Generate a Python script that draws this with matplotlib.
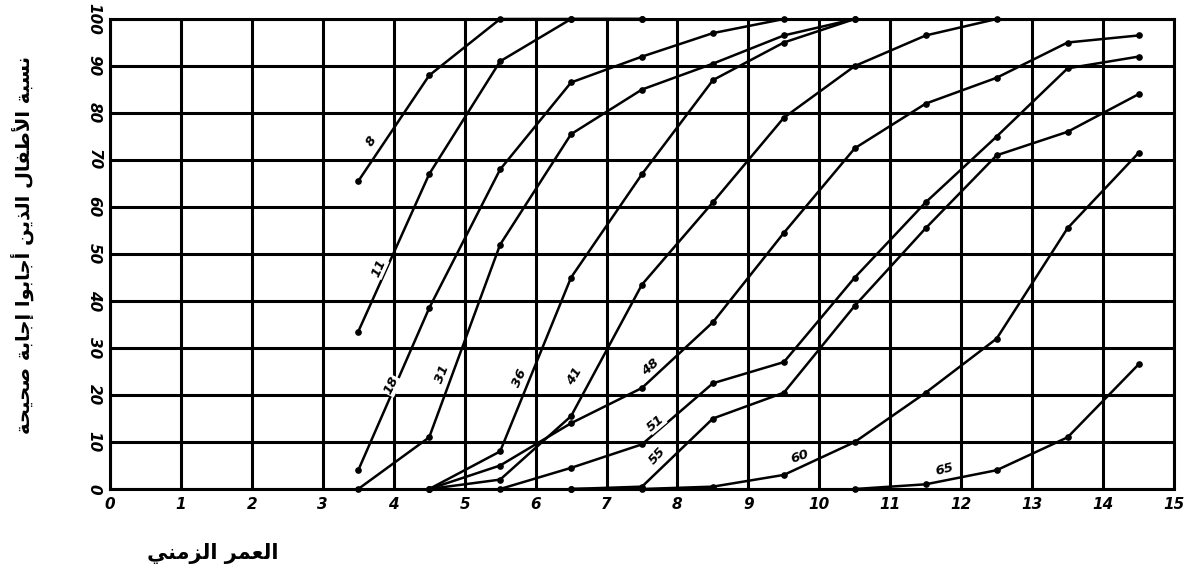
import matplotlib

matplotlib.use("Agg")
import matplotlib.pyplot as plt

# Ages (years) at which each group was tested
ages = [3.5, 4.5, 5.5, 6.5, 7.5, 8.5, 9.5, 10.5, 11.5, 12.5, 13.5, 14.5]

# Percent of children answering correctly, one series per item
item_8 = [65.5, 88, 100, 100, 100]
item_11 = [33.5, 67, 91, 100, 100]
item_18 = [4, 38.5, 68, 86.5, 92, 97, 100]
item_31 = [0, 11, 52, 75.5, 85, 90.5, 96.5, 100]
item_36 = [None, 0, 8, 45, 67, 87, 95, 100]
item_41 = [None, 0, 2, 15.5, 43.5, 61, 79, 90, 96.5, 100]
item_48 = [None, 0, 5, 14, 21.5, 35.5, 54.5, 72.5, 82, 87.5, 95, 96.5]
item_51 = [None, None, 0, 4.5, 9.5, 22.5, 27, 45, 61, 75, 89.5, 92]
item_55 = [None, None, None, 0, 0.5, 15, 20.5, 39, 55.5, 71, 76, 84]
item_60 = [None, None, None, 0, 0, 0.5, 3, 10, 20.5, 32, 55.5, 71.5]
item_65 = [None, None, None, None, None, None, None, 0, 1, 4, 11, 26.5]

items = {
    "8": item_8, "11": item_11, "18": item_18, "31": item_31,
    "36": item_36, "41": item_41, "48": item_48, "51": item_51,
    "55": item_55, "60": item_60, "65": item_65,
}

# where each item number is written, and its slant
label_pos = {
    "8": (3.68, 74, 56), "11": (3.79, 47, 66), "18": (3.97, 22, 64),
    "31": (4.69, 24.5, 68), "36": (5.77, 23.5, 66), "41": (6.55, 24, 60),
    "48": (7.62, 26, 42), "51": (7.69, 14, 40), "55": (7.72, 7, 48),
    "60": (9.73, 7, 20), "65": (11.77, 4.2, 14),
}

x_ticks = list(range(0, 16))
y_ticks = list(range(0, 101, 10))

y_title = "نسبة الأطفال الذين أجابوا إجابة صحيحة"
x_title = "العمر الزمني"

# Arabic presentation forms: isolated, final, initial, medial
FORMS = {
    "ا": ("\uFE8D", "\uFE8E", None, None),
    "أ": ("\uFE83", "\uFE84", None, None),
    "إ": ("\uFE87", "\uFE88", None, None),
    "ب": ("\uFE8F", "\uFE90", "\uFE91", "\uFE92"),
    "ة": ("\uFE93", "\uFE94", None, None),
    "ج": ("\uFE9D", "\uFE9E", "\uFE9F", "\uFEA0"),
    "ح": ("\uFEA1", "\uFEA2", "\uFEA3", "\uFEA4"),
    "ذ": ("\uFEAB", "\uFEAC", None, None),
    "ر": ("\uFEAD", "\uFEAE", None, None),
    "ز": ("\uFEAF", "\uFEB0", None, None),
    "س": ("\uFEB1", "\uFEB2", "\uFEB3", "\uFEB4"),
    "ص": ("\uFEB9", "\uFEBA", "\uFEBB", "\uFEBC"),
    "ط": ("\uFEC1", "\uFEC2", "\uFEC3", "\uFEC4"),
    "ع": ("\uFEC9", "\uFECA", "\uFECB", "\uFECC"),
    "ف": ("\uFED1", "\uFED2", "\uFED3", "\uFED4"),
    "ل": ("\uFEDD", "\uFEDE", "\uFEDF", "\uFEE0"),
    "م": ("\uFEE1", "\uFEE2", "\uFEE3", "\uFEE4"),
    "ن": ("\uFEE5", "\uFEE6", "\uFEE7", "\uFEE8"),
    "و": ("\uFEED", "\uFEEE", None, None),
    "ي": ("\uFEF1", "\uFEF2", "\uFEF3", "\uFEF4"),
}
LAM_ALEF = {"ا": ("\uFEFB", "\uFEFC"), "أ": ("\uFEF7", "\uFEF8"), "إ": ("\uFEF9", "\uFEFA")}


def shape_arabic(text):
    """Join Arabic letters and put them in visual (left-to-right) order."""
    words = []
    for word in text.split(" "):
        units = []
        i = 0
        while i < len(word):
            if word[i] == "ل" and i + 1 < len(word) and word[i + 1] in LAM_ALEF:
                units.append((True, word[i + 1]))
                i += 2
            else:
                units.append((False, word[i]))
                i += 1
        glyphs = []
        prev_joins = False
        for k, (lam_alef, ch) in enumerate(units):
            if lam_alef:
                iso, fin = LAM_ALEF[ch]
                glyphs.append(fin if prev_joins else iso)
                prev_joins = False
                continue
            iso, fin, ini, med = FORMS[ch]
            joins_next = k + 1 < len(units) and ini is not None
            if prev_joins and joins_next:
                glyphs.append(med)
            elif prev_joins:
                glyphs.append(fin)
            elif joins_next:
                glyphs.append(ini)
            else:
                glyphs.append(iso)
            prev_joins = joins_next
        words.append("".join(glyphs))
    return " ".join(words)[::-1]


fig = plt.figure(figsize=(11.88, 5.72), dpi=100)
ax = fig.add_axes([110 / 1188, 1 - 489 / 572, 1064 / 1188, 470 / 572])

for name, values in items.items():
    pts = [(a, v) for a, v in zip(ages, values) if v is not None]
    xs, ys = zip(*pts)
    ax.plot(xs, ys, color="black", lw=1.8, marker="o", ms=3.8, zorder=3, clip_on=False)
    lx, ly, rot = label_pos[name]
    ax.text(lx, ly, name, rotation=rot, ha="center", va="center", fontsize=9.5,
            fontweight="bold", fontstyle="italic", zorder=4,
            bbox=dict(boxstyle="square,pad=0.05", fc="white", ec="none"))

ax.set_xlim(0, 15)
ax.set_ylim(0, 100)
ax.set_xticks(x_ticks)
ax.set_yticks(y_ticks)
ax.set_xticklabels([str(t) for t in x_ticks], fontsize=11, fontweight="bold", fontstyle="italic")
ax.set_yticklabels([str(t) for t in y_ticks], fontsize=11, fontweight="bold", fontstyle="italic",
                   rotation=-90, va="center")
ax.tick_params(length=0, pad=6)
ax.grid(True, color="black", lw=2.2, zorder=1)
for spine in ax.spines.values():
    spine.set_linewidth(2.2)

fig.text(22 / 1188, 1 - 245 / 572, shape_arabic(y_title), rotation=90, ha="center", va="center",
         fontsize=14, fontweight="bold", family="DejaVu Sans")
fig.text(213 / 1188, 1 - 553 / 572, shape_arabic(x_title), ha="center", va="center",
         fontsize=15, fontweight="bold", family="DejaVu Sans")

fig.savefig("out.png", dpi=100)
